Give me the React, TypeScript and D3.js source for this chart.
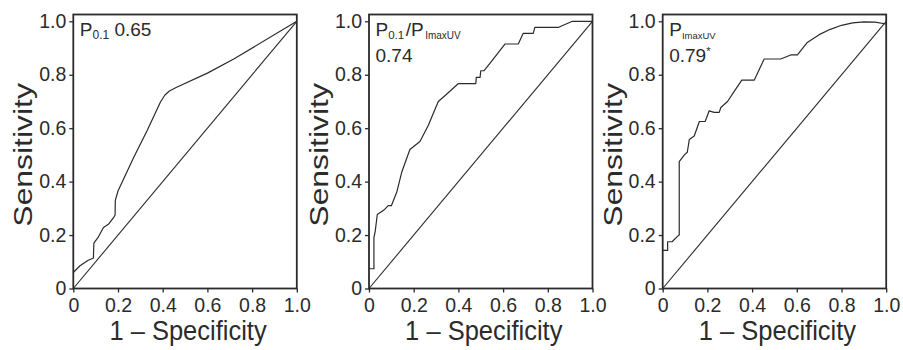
import { useEffect, useRef } from "react";
import * as d3 from "d3";

// tick values shared by all three panels
const xTicks = [0, 0.2, 0.4, 0.6, 0.8, 1.0];
const yTicks = [0, 0.2, 0.4, 0.6, 0.8, 1.0];

// ROC curves: [1 - specificity, sensitivity]
const rocP01: [number, number][] = [
  [0, 0.06], [0.03, 0.085], [0.065, 0.105], [0.09, 0.114], [0.092, 0.17],
  [0.11, 0.19], [0.135, 0.228], [0.157, 0.24], [0.18, 0.265], [0.187, 0.275],
  [0.188, 0.33], [0.2, 0.365], [0.27, 0.49], [0.33, 0.59], [0.39, 0.698],
  [0.41, 0.724], [0.43, 0.739], [0.46, 0.752], [0.6, 0.806], [0.72, 0.86], [1, 1],
];

const rocRatio: [number, number][] = [
  [0, 0.074], [0.022, 0.074], [0.022, 0.19], [0.028, 0.215], [0.037, 0.277],
  [0.07, 0.296], [0.086, 0.31], [0.1, 0.31], [0.124, 0.36], [0.146, 0.434],
  [0.183, 0.52], [0.228, 0.55], [0.265, 0.61], [0.31, 0.7], [0.347, 0.727],
  [0.4, 0.767], [0.478, 0.767], [0.48, 0.79], [0.497, 0.79], [0.5, 0.815],
  [0.515, 0.815], [0.548, 0.85], [0.608, 0.915], [0.668, 0.915], [0.69, 0.955],
  [0.735, 0.955], [0.742, 0.977], [0.846, 0.977], [0.91, 1.0], [1, 1],
];

const rocPImax: [number, number][] = [
  [0, 0.1425], [0.022, 0.1425], [0.022, 0.175], [0.042, 0.175], [0.067, 0.196],
  [0.074, 0.2], [0.074, 0.475], [0.097, 0.5], [0.11, 0.51], [0.119, 0.5575],
  [0.141, 0.571], [0.164, 0.625], [0.19, 0.625], [0.208, 0.665], [0.23, 0.659],
  [0.253, 0.659], [0.26, 0.6775], [0.29, 0.7], [0.32, 0.7375], [0.354, 0.78],
  [0.41, 0.78], [0.454, 0.859], [0.528, 0.859], [0.573, 0.874], [0.603, 0.874],
  [0.647, 0.921], [0.7, 0.95], [0.75, 0.97], [0.8, 0.985], [0.85, 0.994],
  [0.9, 0.998], [0.95, 0.997], [1, 0.99],
];

const aucLabels = ["0.65", "0.74", "0.79"];

const FONT = "'Liberation Sans', Arial, Helvetica, sans-serif";
const INK = "#2b2b2b";
const W = 903;
const H = 350;
const PLOT_W = 223.5;
const PANEL_LEFT = [73.3, 369, 662.7];
const Y_ZERO = 288.5;
const Y_ONE = 21.3;
const FRAME_TOP = 14.5;

export default function App() {
  const svgRef = useRef(null);

  useEffect(() => {
    document.body.style.margin = "0";
    const svg = d3.select(svgRef.current);
    svg.selectAll("*").remove();

    const curves = [rocP01, rocRatio, rocPImax];
    const y = d3.scaleLinear().domain([0, 1]).range([Y_ZERO, Y_ONE]);
    const x = d3.scaleLinear().domain([0, 1]).range([0, PLOT_W]);
    const fmt = (d: number) => (d === 0 ? "0" : d3.format(".1f")(d));

    const line = d3.line<[number, number]>()
      .x(d => x(d[0]))
      .y(d => y(d[1]));

    curves.forEach((data, i) => {
      const g = svg.append("g").attr("transform", `translate(${PANEL_LEFT[i]},0)`);

      // axes
      const xAxis = g.append("g")
        .attr("transform", `translate(0,${Y_ZERO})`)
        .call(d3.axisBottom(x).tickValues(xTicks).tickFormat(fmt as any).tickSize(4).tickSizeOuter(0).tickPadding(5.5));
      const yAxis = g.append("g")
        .call(d3.axisLeft(y).tickValues(yTicks).tickFormat(fmt as any).tickSize(4).tickSizeOuter(0).tickPadding(3));

      [xAxis, yAxis].forEach(ax => {
        ax.select(".domain").remove();
        ax.selectAll("line").attr("stroke", INK).attr("stroke-width", 1.3);
        ax.selectAll("text")
          .attr("fill", INK)
          .style("font-family", FONT)
          .style("font-size", "19.5px");
      });

      // frame
      g.append("rect")
        .attr("x", 0)
        .attr("y", FRAME_TOP)
        .attr("width", PLOT_W)
        .attr("height", Y_ZERO - FRAME_TOP)
        .attr("fill", "none")
        .attr("stroke", INK)
        .attr("stroke-width", 1.8);

      // chance line
      g.append("path")
        .attr("d", line([[0, 0], [1, 1]]))
        .attr("fill", "none")
        .attr("stroke", INK)
        .attr("stroke-width", 1.1);

      // roc curve
      g.append("path")
        .attr("d", line(data))
        .attr("fill", "none")
        .attr("stroke", INK)
        .attr("stroke-width", 1.2)
        .attr("stroke-linejoin", "round");

      // axis titles
      g.append("text")
        .attr("transform", `translate(${PLOT_W / 2 + 3},340) scale(1,1.1)`)
        .attr("text-anchor", "middle")
        .attr("fill", INK)
        .style("font-family", FONT)
        .style("font-size", "25.5px")
        .text("1 \u2013 Specificity");

      g.append("text")
        .attr("transform", `translate(-41,${(Y_ZERO + Y_ONE) / 2}) rotate(-90) scale(1.25,1)`)
        .attr("text-anchor", "middle")
        .attr("fill", INK)
        .style("font-family", FONT)
        .style("font-size", "25.5px")
        .text("Sensitivity");

      // annotation
      const ann = g.append("text")
        .attr("x", 6.5)
        .attr("y", 35.5)
        .attr("fill", INK)
        .style("font-family", FONT)
        .style("font-size", "19px");

      if (i === 0) {
        ann.append("tspan").text("P");
        ann.append("tspan").attr("dy", 3.5).style("font-size", "12px").text("0.1");
        ann.append("tspan").attr("dy", -3.5).text(" " + aucLabels[i]);
      } else {
        if (i === 1) {
          ann.append("tspan").text("P");
          ann.append("tspan").attr("dy", 3.5).style("font-size", "11.5px").text("0.1");
          ann.append("tspan").attr("dy", -3.5).attr("dx", 1.5).text("/P");
          ann.append("tspan").attr("dy", 3.5).attr("dx", 1.5).style("font-size", "10px").text("ImaxUV");
        } else {
          ann.append("tspan").text("P");
          ann.append("tspan").attr("dy", 3.5).style("font-size", "9.5px").text("ImaxUV");
        }
        const second = g.append("text")
          .attr("x", 6.5)
          .attr("y", 62)
          .attr("fill", INK)
          .style("font-family", FONT)
          .style("font-size", "19px");
        second.append("tspan").text(aucLabels[i]);
        if (i === 2) {
          second.append("tspan").attr("dy", -7).style("font-size", "11px").text("*");
        }
      }
    });
  }, []);

  return <svg ref={svgRef} width={W} height={H} style={{ display: "block", background: "#fff" }} />;
}
